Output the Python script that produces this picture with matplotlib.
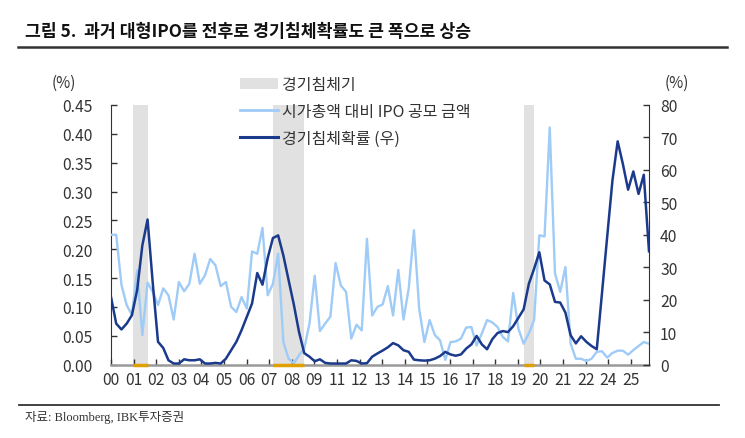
import matplotlib
matplotlib.use('Agg')
import matplotlib.pyplot as plt
import numpy as np
from matplotlib.lines import Line2D
from matplotlib.patches import Patch

plt.rcParams['font.family'] = ['Noto Sans CJK KR', 'DejaVu Sans']

# 시가총액 대비 IPO 공모 금액 (%, 좌축), 분기
ipo_ratio = [0.225, 0.225, 0.138, 0.103, 0.086, 0.163, 0.051, 0.142, 0.126, 0.103, 0.132, 0.120, 0.078,
             0.143, 0.127, 0.140, 0.192, 0.140, 0.155, 0.183, 0.172, 0.136, 0.143, 0.100, 0.091, 0.117,
             0.097, 0.196, 0.192, 0.237, 0.120, 0.140, 0.192, 0.039, 0.010, 0.002, 0.016, 0.028, 0.071,
             0.154, 0.058, 0.071, 0.083, 0.176, 0.137, 0.126, 0.045, 0.069, 0.059, 0.218, 0.085, 0.100,
             0.104, 0.136, 0.085, 0.164, 0.078, 0.132, 0.233, 0.097, 0.039, 0.077, 0.051, 0.042, 0.008,
             0.039, 0.040, 0.045, 0.064, 0.065, 0.033, 0.054, 0.077, 0.073, 0.065, 0.048, 0.040, 0.124,
             0.062, 0.036, 0.054, 0.077, 0.224, 0.222, 0.411, 0.158, 0.126, 0.169, 0.036, 0.010, 0.010,
             0.006, 0.010, 0.022, 0.023, 0.012, 0.020, 0.024, 0.024, 0.017, 0.025, 0.032, 0.039, 0.036]

# 경기침체확률 (%, 우축)
recession_prob = [20.8, 12.6, 10.8, 12.6, 15.2, 22.9, 36.7, 44.7, 25.0, 7.0, 5.1, 1.3, 0.3,
                  0.3, 1.6, 1.3, 1.3, 1.6, 0.3, 0.3, 0.5, 0.3, 1.8, 4.4, 7.0, 10.6,
                  14.7, 18.8, 28.2, 24.6, 32.8, 39.0, 39.8, 33.6, 26.0, 18.5, 10.0, 3.5, 2.4,
                  1.0, 1.6, 0.5, 0.3, 0.3, 0.3, 0.3, 1.3, 1.1, 0.3, 0.4, 2.4, 3.4,
                  4.3, 5.3, 6.6, 5.9, 4.4, 3.9, 1.5, 1.3, 1.2, 1.3, 1.8, 2.6, 3.9,
                  3.1, 2.7, 3.1, 4.9, 6.2, 8.8, 6.2, 4.7, 7.8, 9.7, 10.3, 10.0, 11.8,
                  14.4, 17.0, 24.9, 29.5, 34.6, 25.9, 24.7, 19.3, 19.1, 16.0, 9.0, 6.5, 8.7,
                  7.0, 5.7, 4.7, 22.0, 39.5, 56.7, 68.8, 61.8, 53.9, 59.5, 52.6, 58.5, 34.9]

# 경기침체기 (시작, 끝 인덱스)
recessions = [(4.2, 7.1), (31.0, 37.0), (79.1, 81.0)]

year_labels = ['00', '01', '02', '03', '04', '05', '06', '07', '08', '09', '11', '12',
               '13', '14', '15', '16', '17', '18', '19', '20', '21', '22', '24', '25']

light = '#9fcbf7'
dark = '#1b3a8c'
grey = '#e1e1e1'
txt = '#333333'

fig = plt.figure(figsize=(7.45, 4.39), dpi=100)
ax = fig.add_axes([111/745, 1-365.5/439, 538/745, 259.5/439])
ax2 = ax.twinx()

x = np.arange(len(ipo_ratio))
for s, e in recessions:
    ax.axvspan(s, e, color=grey, lw=0, zorder=0)
    ax.plot([s, e], [0, 0], color='#e0a000', lw=2.5, solid_capstyle='butt',
            clip_on=False, zorder=6)

ax.plot(x, ipo_ratio, color=light, lw=1.7, zorder=3)
ax2.plot(x, recession_prob, color=dark, lw=1.8, zorder=3)

ax.set_xlim(0, len(x) - 1)
ax.set_ylim(0, 0.45)
ax2.set_ylim(0, 80)
ax.set_yticks(np.arange(0, 0.451, 0.05))
ax.set_yticklabels(['%.2f' % v for v in np.arange(0, 0.451, 0.05)])
ax2.set_yticks(np.arange(0, 81, 10))
ax.set_xticks(np.arange(len(year_labels)) * 4.327)
ax.set_xticklabels(year_labels)

for a in (ax, ax2):
    a.spines['top'].set_visible(False)
    a.tick_params(direction='in', length=4, width=1, colors=txt, labelsize=11.3, pad=4)
ax2.spines['bottom'].set_visible(False)
ax.spines['left'].set_color(txt)
ax2.spines['right'].set_color(txt)
ax.spines['right'].set_visible(False)
ax2.spines['left'].set_visible(False)
ax.spines['bottom'].set_color('#999999')
ax.spines['bottom'].set_linewidth(1.8)
ax.tick_params(axis='y', pad=13)
ax2.tick_params(axis='y', pad=8)
ax.tick_params(axis='x', pad=5)

fig.text(64/745, 1-83/439, '(%)', ha='center', va='center', fontsize=11, color=txt)
fig.text(677/745, 1-83/439, '(%)', ha='center', va='center', fontsize=11, color=txt)

handles = [Patch(facecolor=grey, edgecolor='none'),
           Line2D([], [], color=light, lw=2),
           Line2D([], [], color=dark, lw=2.2)]
labels = ['경기침체기', '시가총액 대비 IPO 공모 금액', '경기침체확률 (우)']
fig.legend(handles, labels, loc='upper left', bbox_to_anchor=(240/745, 1-77/439),
           frameon=False, fontsize=11.5, handlelength=2.4, handletextpad=0.2,
           labelspacing=0.62, borderaxespad=0, borderpad=0, labelcolor=txt)

fig.text(25/745, 1-32/439, '그림 5.  과거 대형IPO를 전후로 경기침체확률도 큰 폭으로 상승',
         ha='left', va='center', fontsize=12.4, fontweight='bold', color='#111111')
fig.add_artist(Line2D([18/745, 727/745], [1-48/439, 1-48/439], color='#333333', lw=1.8))
fig.add_artist(Line2D([19/745, 719/745], [1-406/439, 1-406/439], color='#333333', lw=1.3))
fig.text(25/745, 1-418/439, '자료: Bloomberg, IBK투자증권', ha='left', va='center',
         fontsize=9, color=txt, family=['Liberation Serif', 'Noto Sans CJK KR'])

fig.savefig('out.png', dpi=100)
